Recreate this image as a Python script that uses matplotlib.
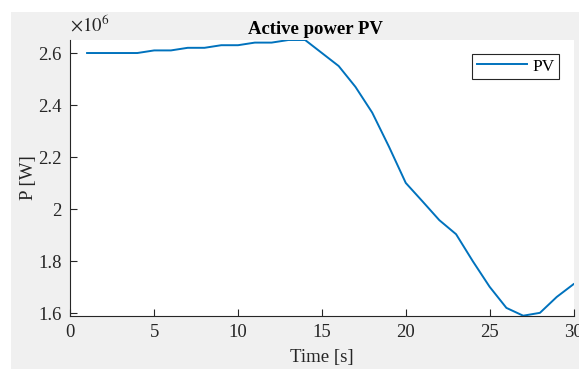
import numpy as np
import matplotlib
matplotlib.use("Agg")
import matplotlib.pyplot as plt
from matplotlib.patches import Rectangle
from matplotlib.ticker import FuncFormatter

# 読み取ったデータ (時間 [s], 有効電力 [W])
time_s = [1, 2, 3, 4, 5, 6, 7, 8, 9, 10, 11, 12, 13, 14, 15,
          16, 17, 18, 19, 20, 21, 22, 23, 24, 25, 26, 27, 28, 29, 30]
p_pv = [2.600e6, 2.600e6, 2.600e6, 2.600e6, 2.610e6, 2.610e6, 2.620e6, 2.620e6,
        2.630e6, 2.630e6, 2.640e6, 2.640e6, 2.650e6, 2.650e6, 2.600e6,
        2.550e6, 2.470e6, 2.371e6, 2.240e6, 2.101e6, 2.030e6, 1.958e6,
        1.904e6, 1.800e6, 1.702e6, 1.621e6, 1.591e6, 1.602e6, 1.663e6, 1.712e6]
x_ticks = [0, 5, 10, 15, 20, 25, 30]
y_ticks = [1.6e6, 1.8e6, 2.0e6, 2.2e6, 2.4e6, 2.6e6]

plt.rcParams['font.family'] = ['Liberation Serif', 'DejaVu Serif']
plt.rcParams['mathtext.fontset'] = 'stix'

W, H = 579, 369
fig = plt.figure(figsize=(W / 100, H / 100), dpi=100)
fig.patch.set_facecolor('white')
# MATLABっぽい灰色の背景
bg = Rectangle((11 / W, 0), 1, 1 - 12 / H, transform=fig.transFigure,
               facecolor='#f0f0f0', edgecolor='none', zorder=-10)
fig.patches.append(bg)

ax = fig.add_axes([70.3 / W, 1 - 315.7 / H, (573.5 - 70.3) / W, (315.7 - 40) / H])
ax.set_zorder(1)
ax.set_facecolor('white')
ax.plot(time_s, p_pv, color='#0072BD', lw=1.4, label='PV')

ax.set_xlim(0, 30)
ax.set_ylim(min(p_pv), max(p_pv))
ax.set_xticks(x_ticks)
ax.set_yticks(y_ticks)

# MATLAB風: 1e6で割って末尾の0なし
ax.yaxis.set_major_formatter(FuncFormatter(lambda v, p: f"{v / 1e6:g}"))

dark = '#262626'
for s in ['top', 'right']:
    ax.spines[s].set_visible(False)
for s in ['left', 'bottom']:
    ax.spines[s].set_color(dark)
    ax.spines[s].set_linewidth(0.8)
ax.tick_params(direction='in', length=5, width=0.8, colors=dark, labelsize=13.5, pad=6)

ax.text(0.0, 1.015, r'$\times 10^{6}$', transform=ax.transAxes, fontsize=13.5,
        color=dark, ha='left', va='bottom')

ax.set_title('Active power PV', fontsize=13.5, fontweight='bold', color='black',
             pad=4, x=0.487)
ax.set_xlabel('Time [s]', fontsize=13.5, color=dark, labelpad=6)
ax.set_ylabel('P [W]', fontsize=13.5, color=dark, labelpad=1)

leg = ax.legend(loc='upper right', bbox_to_anchor=(0.971, 0.949), borderaxespad=0,
                fontsize=12.5, fancybox=False, framealpha=1, edgecolor=dark,
                handlelength=2.9, borderpad=0.25, handletextpad=0.3)
leg.get_frame().set_linewidth(0.8)

fig.savefig('out.png', dpi=100)
